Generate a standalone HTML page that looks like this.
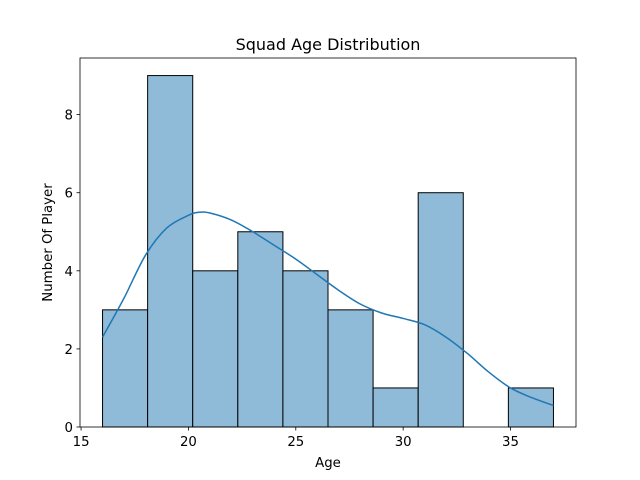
<!DOCTYPE html>
<html><head><meta charset="utf-8"><style>
body{margin:0;background:#fff}
svg{display:block;font-family:"DejaVu Sans","Liberation Sans",sans-serif}
</style></head><body>
<svg id="chart" width="640" height="480"></svg>
<script>
const binEdgesStart = 16;
const binEdgesEnd = 37;
const counts = [3, 9, 4, 5, 4, 3, 1, 6, 0, 1];
const kdeX = [16,17,18,19,20,20.5,21,22,23,24,25,26,27,28,29,30,31,32,33,34,35,36,37];
const kdeY = [2.3,3.3,4.4,5.1,5.42,5.5,5.48,5.3,5.0,4.65,4.3,3.9,3.5,3.15,2.92,2.78,2.62,2.3,1.88,1.4,1.0,0.75,0.55];
const xTicks = [15, 20, 25, 30, 35];
const yTicks = [0, 2, 4, 6, 8];

const L=80,R=576,T=58,B=427;
const xmin=14.95,xmax=38.05,ymin=0,ymax=9.45;
const sx=v=>L+(v-xmin)/(xmax-xmin)*(R-L);
const sy=v=>B-(v-ymin)/(ymax-ymin)*(B-T);
const svg=document.getElementById('chart');
const NS='http://www.w3.org/2000/svg';
function mk(tag,attrs,parent){const e=document.createElementNS(NS,tag);for(const k in attrs)e.setAttribute(k,attrs[k]);(parent||svg).appendChild(e);return e;}

const w=(binEdgesEnd-binEdgesStart)/counts.length;
counts.forEach((c,i)=>{
  const x0=sx(binEdgesStart+i*w),x1=sx(binEdgesStart+(i+1)*w);
  const r=mk('rect',{x:x0,y:sy(c),width:x1-x0,height:sy(0)-sy(c),fill:'#8fbbd9',stroke:'#000','stroke-width':1});
  
  
});
const pts=kdeX.map((x,i)=>[sx(x),sy(kdeY[i])]);
let d='M'+pts[0][0]+','+pts[0][1];
for(let i=0;i<pts.length-1;i++){
  const p0=pts[Math.max(0,i-1)],p1=pts[i],p2=pts[i+1],p3=pts[Math.min(pts.length-1,i+2)];
  const c1=[p1[0]+(p2[0]-p0[0])/6,p1[1]+(p2[1]-p0[1])/6];
  const c2=[p2[0]-(p3[0]-p1[0])/6,p2[1]-(p3[1]-p1[1])/6];
  d+=' C'+c1[0]+','+c1[1]+' '+c2[0]+','+c2[1]+' '+p2[0]+','+p2[1];
}
const p=mk('path',{d:d,fill:'none',stroke:'#1f77b4','stroke-width':1.5});



const frame=mk('rect',{x:L,y:T,width:R-L,height:B-T,fill:'none',stroke:'#000','stroke-width':0.8});



xTicks.forEach(v=>{
  const x=sx(v);
  mk('line',{x1:x,x2:x,y1:B,y2:B+3.5,stroke:'#000','stroke-width':0.8});
  const t=mk('text',{x:x,y:B+19,'text-anchor':'middle','font-size':13.3});
  t.textContent=v;
  
  
});
yTicks.forEach(v=>{
  const y=sy(v);
  mk('line',{x1:L-3.5,x2:L,y1:y,y2:y,stroke:'#000','stroke-width':0.8});
  const t=mk('text',{x:L-7,y:y+5,'text-anchor':'end','font-size':13.3});
  t.textContent=v;
  
  
});
const xt=mk('text',{x:(L+R)/2,y:467,'text-anchor':'middle','font-size':13.3});
xt.textContent='Age';


const yt=mk('text',{x:52,y:(T+B)/2,'text-anchor':'middle','font-size':13.3,transform:'rotate(-90 52 '+((T+B)/2)+')'});
yt.textContent='Number Of Player';


const tt=mk('text',{x:(L+R)/2,y:50,'text-anchor':'middle','font-size':16});
tt.textContent='Squad Age Distribution';


</script>
</body></html>
